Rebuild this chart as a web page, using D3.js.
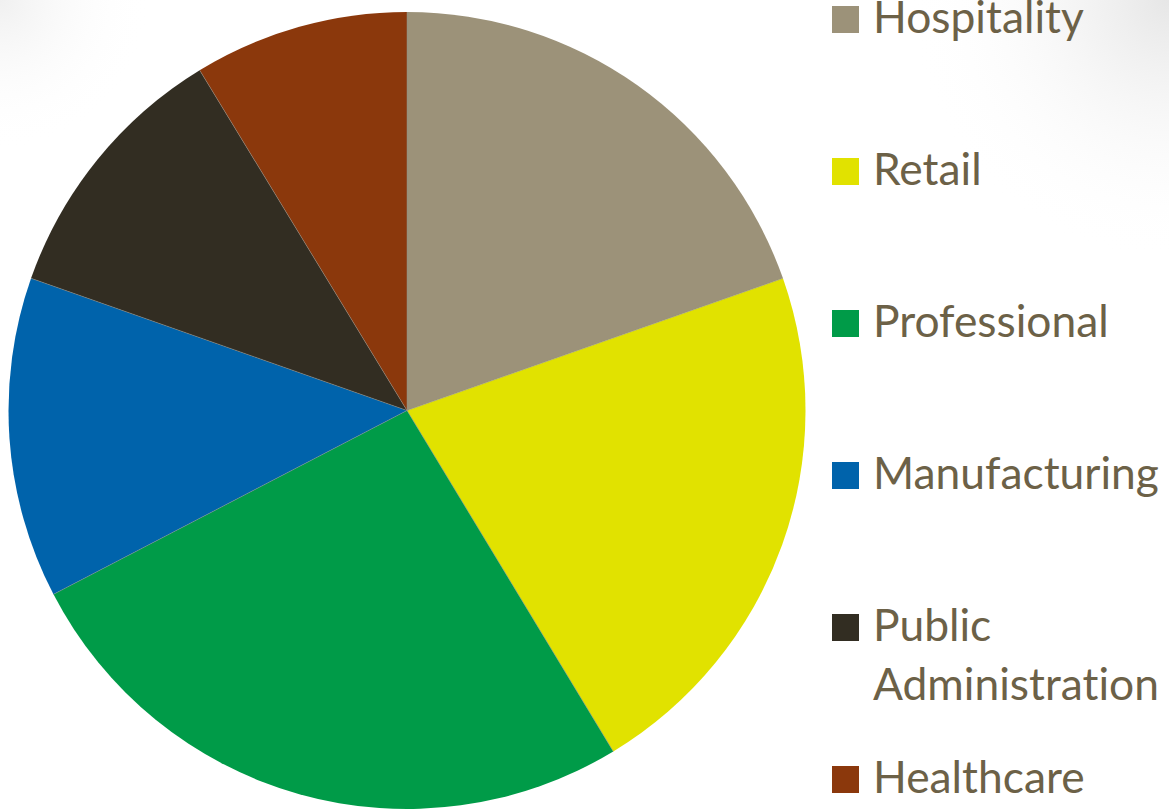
<!DOCTYPE html>
<html>
<head>
<meta charset="utf-8">
<script src="https://cdn.jsdelivr.net/npm/d3@7"></script>
<style>
  html, body { margin: 0; padding: 0; background: #ffffff; }
  svg { display: block; }
  text { font-variant-ligatures: none; font-feature-settings: "liga" 0, "clig" 0; }
</style>
</head>
<body>
<svg id="chart" width="1169" height="809"></svg>
<script>
// ---- data ----
const categories = ["Hospitality", "Retail", "Professional", "Manufacturing", "Public Administration", "Healthcare"];
const legendLines = [["Hospitality"], ["Retail"], ["Professional"], ["Manufacturing"], ["Public", "Administration"], ["Healthcare"]];
const shares = [19.6, 21.7, 26.0, 13.0, 10.9, 8.7];
const colors = ["#9c9279", "#e1e200", "#009b48", "#0063ab", "#322d22", "#8b380c"];

const svg = d3.select("#chart");
const W = 1169, H = 809;

// subtle background shading in corners
const defs = svg.append("defs");
const g1 = defs.append("radialGradient").attr("id", "shadeTR")
  .attr("gradientUnits", "userSpaceOnUse").attr("cx", 1169).attr("cy", 0).attr("r", 260);
g1.append("stop").attr("offset", "0%").attr("stop-color", "#e6e6e6");
g1.append("stop").attr("offset", "100%").attr("stop-color", "#ffffff").attr("stop-opacity", 0);
const g2 = defs.append("radialGradient").attr("id", "shadeTL")
  .attr("gradientUnits", "userSpaceOnUse").attr("cx", 0).attr("cy", 0).attr("r", 150);
g2.append("stop").attr("offset", "0%").attr("stop-color", "#f0f0f0");
g2.append("stop").attr("offset", "100%").attr("stop-color", "#ffffff").attr("stop-opacity", 0);
svg.append("rect").attr("width", W).attr("height", H).attr("fill", "#ffffff");
svg.append("rect").attr("width", W).attr("height", H).attr("fill", "url(#shadeTR)");
svg.append("rect").attr("width", W).attr("height", H).attr("fill", "url(#shadeTL)");

// ---- pie ----
const cx = 407, cy = 410.5, R = 398.5;
const data = categories.map((c, i) => ({ name: c, value: shares[i] }));
const pie = d3.pie().value(d => d.value).sort(null);
const arc = d3.arc().innerRadius(0).outerRadius(R);
const color = d3.scaleOrdinal().domain(categories).range(colors);

const slices = svg.append("g").attr("transform", `translate(${cx},${cy})`);
slices.selectAll("path").data(pie(data)).join("path")
  .attr("d", arc)
  .attr("fill", d => color(d.data.name));
// thin separator lines between slices
const radial = d3.arc().innerRadius(0).outerRadius(R);
slices.selectAll("line").data(pie(data)).join("line")
  .attr("x1", 0).attr("y1", 0)
  .attr("x2", d => R * Math.sin(d.startAngle))
  .attr("y2", d => -R * Math.cos(d.startAngle))
  .attr("stroke", "#8f8f86").attr("stroke-width", 0.5);

// ---- legend ----
const legend = svg.append("g");
const fontFamily = "Lato, 'Open Sans', sans-serif";
const probe = legend.append("text").attr("font-family", fontFamily).attr("font-size", 40).text("Administration");
const w40 = probe.node().getComputedTextLength();
probe.remove();
const fs = 40 * 286 / w40;

const sqY = d3.scaleLinear().domain([0, 5]).range([6, 766]);
legendLines.forEach((lines, i) => {
  const y0 = sqY(i);
  legend.append("rect").attr("x", 832).attr("y", y0).attr("width", 27).attr("height", 27)
    .attr("fill", colors[i]);
  const t = legend.append("text")
    .attr("x", 873).attr("y", y0 + 27)
    .attr("font-family", fontFamily).attr("font-size", fs)
    .attr("fill", "#6c6147");
  lines.forEach((ln, j) => {
    t.append("tspan").attr("x", 873).attr("dy", j === 0 ? 0 : 59).text(ln);
  });
});
</script>
</body>
</html>
